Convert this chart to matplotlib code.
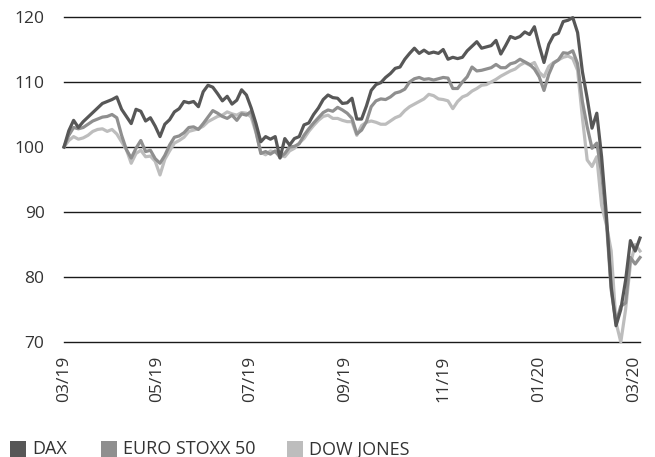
import numpy as np
import matplotlib
matplotlib.use("Agg")
import matplotlib.pyplot as plt
from matplotlib.patches import Rectangle

plt.rcParams['font.family'] = ['Open Sans', 'DejaVu Sans']

# indexed performance, start = 100
dax = [100, 102.5, 104.1, 103.0, 103.9, 104.6, 105.3, 106.0, 106.7, 107.0,
       107.3, 107.7, 105.8, 104.7, 103.6, 105.8, 105.5, 104.0, 104.5, 103.2,
       101.6, 103.5, 104.2, 105.4, 105.9, 107.0, 106.8, 107.0, 106.2, 108.5,
       109.5, 109.2, 108.2, 107.1, 107.8, 106.6, 107.2, 108.8, 108.0, 106.0,
       103.6, 100.8, 101.6, 101.2, 101.6, 98.3, 101.3, 100.3, 101.3, 101.6,
       103.4, 103.7, 105.0, 106.0, 107.3, 108.0, 107.6, 107.5, 106.7, 106.8,
       107.5, 104.3, 104.3, 106.3, 108.7, 109.6, 109.9, 110.7, 111.3, 112.1,
       112.3, 113.5, 114.4, 115.2, 114.4, 114.9, 114.4, 114.6, 114.4, 115.0,
       113.5, 113.8, 113.6, 113.8, 114.8, 115.5, 116.2, 115.2, 115.4, 115.6,
       116.4, 114.3, 115.6, 117.0, 116.7, 117.0, 117.7, 117.3, 118.5, 115.6,
       113.0, 115.8, 117.2, 117.5, 119.3, 119.5, 119.9, 117.6, 111.6, 107.5,
       102.9, 105.2, 98.5, 89.5, 78.5, 72.5, 75.0, 79.5, 85.6, 84.0,
       86.0]

euro_stoxx = [100, 101.8, 103.0, 102.8, 103.0, 103.5, 104.0, 104.3, 104.6, 104.7,
              105.0, 104.5, 101.8, 99.6, 98.3, 99.8, 101.0, 99.3, 99.5, 98.2,
              97.5, 98.7, 100.3, 101.5, 101.7, 102.2, 103.0, 103.1, 102.7, 103.6,
              104.6, 105.6, 105.2, 104.7, 104.4, 104.9, 104.1, 105.1, 104.9, 105.5,
              102.4, 99.0, 99.3, 98.9, 99.4, 98.4, 99.0, 100.0, 100.1, 100.5,
              101.8, 102.8, 103.7, 104.5, 105.3, 105.7, 105.5, 106.1, 105.7, 105.2,
              104.4, 102.0, 102.6, 103.9, 106.2, 107.1, 107.4, 107.3, 107.7, 108.3,
              108.5, 108.9, 110.0, 110.5, 110.7, 110.4, 110.5, 110.3, 110.5, 110.7,
              110.6, 109.0, 109.0, 110.0, 110.8, 112.3, 111.7, 111.8, 112.0, 112.2,
              112.7, 112.2, 112.2, 112.8, 113.0, 113.5, 113.1, 112.7, 112.0, 110.8,
              108.7, 111.2, 112.9, 113.4, 114.5, 114.4, 114.8, 112.8, 107.0, 103.1,
              99.8, 100.6, 96.0, 88.5, 78.0, 73.0, 75.5, 76.0, 83.0, 82.0,
              83.0]

dow_jones = [100, 101.0, 101.6, 101.2, 101.4, 101.8, 102.4, 102.7, 102.8, 102.4,
             102.7, 102.0, 100.8, 99.6, 97.5, 99.0, 99.5, 98.5, 98.6, 97.8,
             95.7, 98.1, 99.4, 100.6, 101.0, 101.5, 102.4, 102.6, 102.8, 103.2,
             103.9, 104.3, 104.7, 104.9, 105.4, 105.1, 104.9, 105.3, 105.2, 104.6,
             102.2, 99.2, 98.8, 99.4, 99.2, 98.8, 98.5, 99.4, 99.8, 100.6,
             101.3, 102.4, 103.3, 104.1, 104.7, 104.9, 104.4, 104.4, 104.1, 103.9,
             103.9, 101.8, 103.3, 103.8, 104.0, 103.8, 103.5, 103.5, 104.0, 104.5,
             104.8, 105.6, 106.2, 106.6, 107.0, 107.4, 108.1, 107.9, 107.4, 107.3,
             107.1, 105.9, 107.0, 107.7, 108.0, 108.6, 109.0, 109.5, 109.6, 110.0,
             110.4, 110.9, 111.3, 111.7, 112.0, 112.6, 113.0, 112.6, 113.0, 111.5,
             110.8, 112.4, 113.0, 113.4, 113.8, 114.0, 113.6, 111.8, 104.5, 98.0,
             97.0, 98.5, 91.0, 88.0, 84.0, 73.0, 70.0, 75.0, 82.0, 85.0,
             84.0]

month_labels = ['03/19', '05/19', '07/19', '09/19', '11/19', '01/20', '03/20']
y_ticks = [70, 80, 90, 100, 110, 120]

names = ['DAX', 'EURO STOXX 50', 'DOW JONES']
colors = ['#575757', '#8f8f8f', '#bdbdbd']

x = np.arange(len(dax))
W, H = 655, 457

fig = plt.figure(figsize=(W / 100, H / 100), dpi=100)
ax = fig.add_axes([64 / W, 1 - 342 / H, 576 / W, 325 / H])

for v in y_ticks:
    ax.axhline(v, color='#1a1a1a', linewidth=1.0, zorder=1, clip_on=False)

series = [dax, euro_stoxx, dow_jones]
for vals, c, z in zip(series[::-1], colors[::-1], [2, 3, 4]):
    ax.plot(x, vals, color=c, linewidth=2.3, zorder=z, clip_on=False)

ax.set_xlim(0, len(dax) - 1)
ax.set_ylim(70, 120)

tick_frac = [0, 0.1615, 0.323, 0.488, 0.658, 0.825, 0.99]
ax.set_xticks([f * (len(dax) - 1) for f in tick_frac])
ax.set_xticklabels(month_labels, rotation=90, fontsize=12.5, color='#333333')
ax.set_yticks(y_ticks)
ax.set_yticklabels([str(v) for v in y_ticks], fontsize=12.5, color='#333333')
ax.tick_params(axis='both', length=0)
ax.tick_params(axis='y', pad=14)
ax.tick_params(axis='x', pad=10)
for s in ax.spines.values():
    s.set_visible(False)

# legend along the bottom edge
box_x = [10, 101, 287]
for bx, c, name in zip(box_x, colors, names):
    fig.add_artist(Rectangle((bx / W, 1 - 457 / H), 16 / W, 16 / H,
                             transform=fig.transFigure, facecolor=c,
                             edgecolor='none'))
    fig.text((bx + 22) / W, 1 - 454.5 / H, name, fontsize=13,
             color='#333333', ha='left', va='baseline')

fig.savefig('out.png', dpi=100)
